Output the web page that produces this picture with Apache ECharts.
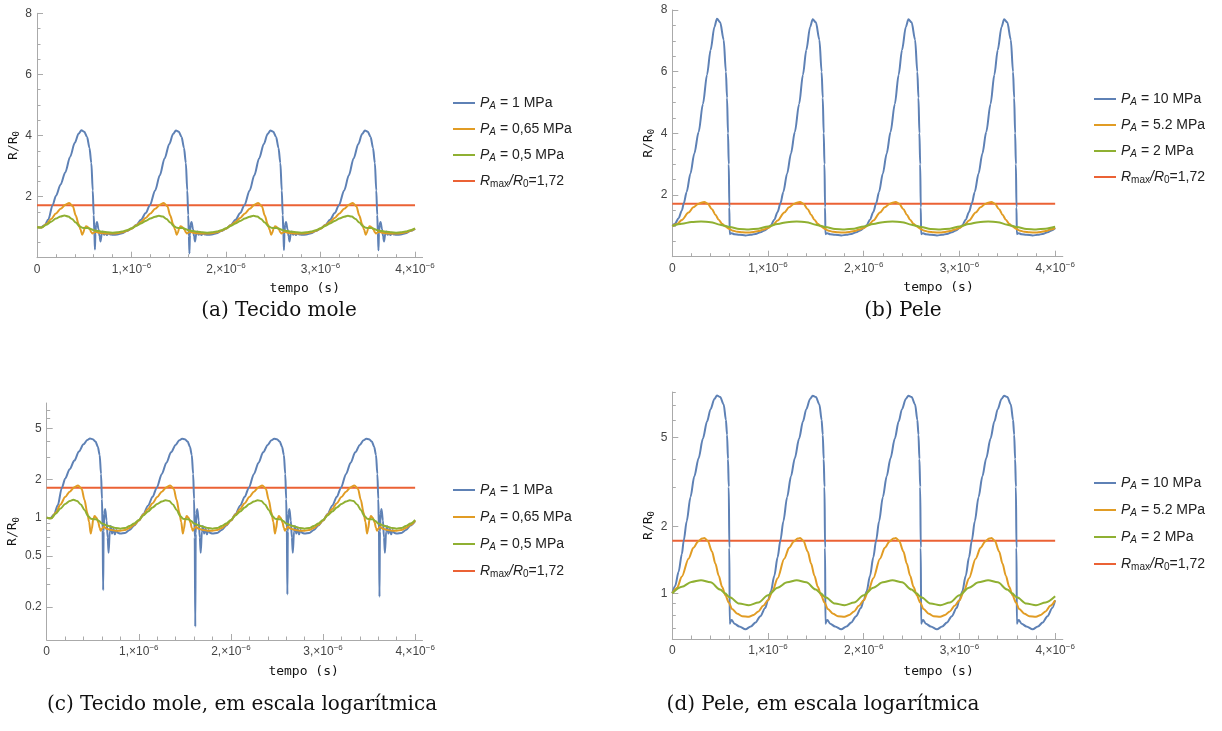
<!DOCTYPE html>
<html>
<head>
<meta charset="utf-8">
<script src="https://cdn.jsdelivr.net/npm/echarts@6/dist/echarts.min.js"></script>
<style>
html, body { margin: 0; padding: 0; background: #fff; }
#chart { width: 1222px; height: 731px; }
</style>
</head>
<body>
<div id="chart"></div>
<script>
// tempo em microssegundos, R/R0
// Tecido mole
const pa1MPa = [
  [0,1.0],[0.04,0.99],[0.08,1.06],[0.12,1.25],[0.165,1.72],[0.2,2.02],[0.25,2.4],[0.3,2.8],[0.35,3.3],[0.4,3.76],[0.44,4.06],[0.47,4.17],[0.5,4.12],[0.53,3.95],[0.555,3.6],[0.575,3.1],[0.59,2.2],[0.6,1.4],[0.607,0.8],[0.613,0.27],[0.618,0.78],[0.625,1.08],[0.635,1.17],[0.65,0.95],[0.662,0.7],[0.672,0.53],[0.685,0.78],[0.695,0.86],[0.71,0.75],[0.725,0.82],[0.74,0.74],[0.755,0.8],[0.775,0.76],[0.8,0.75],[0.85,0.76],[0.9,0.8],[0.95,0.87],
  [1.0,0.95],[1.05,1.07],[1.1,1.24],[1.15,1.46],[1.195,1.72],[1.25,2.2],[1.3,2.7],[1.35,3.25],[1.4,3.72],[1.44,4.05],[1.47,4.16],[1.5,4.12],[1.53,3.95],[1.555,3.6],[1.575,3.1],[1.59,2.2],[1.6,1.4],[1.607,0.7],[1.613,0.14],[1.618,0.75],[1.625,1.08],[1.635,1.17],[1.65,0.95],[1.662,0.7],[1.672,0.53],[1.685,0.78],[1.695,0.86],[1.71,0.75],[1.725,0.82],[1.74,0.74],[1.755,0.8],[1.775,0.76],[1.8,0.75],[1.85,0.76],[1.9,0.8],[1.95,0.87],
  [2.0,0.95],[2.05,1.07],[2.1,1.24],[2.15,1.46],[2.195,1.72],[2.25,2.2],[2.3,2.7],[2.35,3.25],[2.4,3.72],[2.44,4.05],[2.47,4.16],[2.5,4.12],[2.53,3.95],[2.555,3.6],[2.575,3.1],[2.59,2.2],[2.6,1.4],[2.607,0.8],[2.613,0.25],[2.618,0.78],[2.625,1.08],[2.635,1.17],[2.65,0.95],[2.662,0.7],[2.672,0.53],[2.685,0.78],[2.695,0.86],[2.71,0.75],[2.725,0.82],[2.74,0.74],[2.755,0.8],[2.775,0.76],[2.8,0.75],[2.85,0.76],[2.9,0.8],[2.95,0.87],
  [3.0,0.95],[3.05,1.07],[3.1,1.24],[3.15,1.46],[3.195,1.72],[3.25,2.2],[3.3,2.7],[3.35,3.25],[3.4,3.72],[3.44,4.05],[3.47,4.16],[3.5,4.12],[3.53,3.95],[3.555,3.6],[3.575,3.1],[3.59,2.2],[3.6,1.4],[3.607,0.8],[3.613,0.24],[3.618,0.78],[3.625,1.08],[3.635,1.17],[3.65,0.95],[3.662,0.7],[3.672,0.53],[3.685,0.78],[3.695,0.86],[3.71,0.75],[3.725,0.82],[3.74,0.74],[3.755,0.8],[3.775,0.76],[3.8,0.75],[3.85,0.76],[3.9,0.8],[3.95,0.87],
  [4.0,0.94]
];
const pa065MPa = [
  [0,1.0],[0.05,0.99],[0.1,1.1],[0.15,1.27],[0.2,1.45],[0.25,1.6],[0.3,1.73],[0.34,1.79],[0.38,1.68],[0.41,1.38],[0.44,1.1],[0.46,0.93],[0.478,0.75],[0.49,0.82],[0.505,0.97],[0.52,1.03],[0.54,1.0],[0.56,0.92],[0.575,0.83],[0.587,0.79],[0.6,0.82],[0.62,0.85],[0.65,0.82],[0.7,0.8],[0.75,0.79],[0.8,0.79],[0.85,0.8],[0.9,0.83],[0.95,0.88],
  [1.0,0.95],[1.05,1.06],[1.1,1.17],[1.15,1.3],[1.2,1.45],[1.25,1.6],[1.3,1.73],[1.34,1.79],[1.38,1.68],[1.41,1.38],[1.44,1.1],[1.46,0.93],[1.478,0.75],[1.49,0.82],[1.505,0.97],[1.52,1.03],[1.54,1.0],[1.56,0.92],[1.575,0.83],[1.587,0.79],[1.6,0.82],[1.62,0.85],[1.65,0.82],[1.7,0.8],[1.75,0.79],[1.8,0.79],[1.85,0.8],[1.9,0.83],[1.95,0.88],
  [2.0,0.95],[2.05,1.06],[2.1,1.17],[2.15,1.3],[2.2,1.45],[2.25,1.6],[2.3,1.73],[2.34,1.79],[2.38,1.68],[2.41,1.38],[2.44,1.1],[2.46,0.93],[2.478,0.75],[2.49,0.82],[2.505,0.97],[2.52,1.03],[2.54,1.0],[2.56,0.92],[2.575,0.83],[2.587,0.79],[2.6,0.82],[2.62,0.85],[2.65,0.82],[2.7,0.8],[2.75,0.79],[2.8,0.79],[2.85,0.8],[2.9,0.83],[2.95,0.88],
  [3.0,0.95],[3.05,1.06],[3.1,1.17],[3.15,1.3],[3.2,1.45],[3.25,1.6],[3.3,1.73],[3.34,1.79],[3.38,1.68],[3.41,1.38],[3.44,1.1],[3.46,0.93],[3.478,0.75],[3.49,0.82],[3.505,0.97],[3.52,1.03],[3.54,1.0],[3.56,0.92],[3.575,0.83],[3.587,0.79],[3.6,0.82],[3.62,0.85],[3.65,0.82],[3.7,0.8],[3.75,0.79],[3.8,0.79],[3.85,0.8],[3.9,0.83],[3.95,0.88],
  [4.0,0.95]
];
const pa05MPa = [
  [0,1.0],[0.05,0.99],[0.1,1.08],[0.15,1.18],[0.2,1.28],[0.25,1.35],[0.29,1.38],[0.33,1.35],[0.37,1.27],[0.41,1.15],[0.45,1.03],[0.48,0.98],[0.51,0.97],[0.54,0.97],[0.57,0.94],[0.6,0.9],[0.65,0.87],[0.7,0.85],[0.75,0.83],[0.8,0.82],[0.85,0.83],[0.9,0.86],[0.95,0.9],
  [1.0,0.96],[1.05,1.04],[1.1,1.12],[1.15,1.2],[1.2,1.28],[1.25,1.34],[1.29,1.37],[1.33,1.35],[1.37,1.27],[1.41,1.15],[1.45,1.03],[1.48,0.98],[1.51,0.97],[1.54,0.97],[1.57,0.94],[1.6,0.9],[1.65,0.87],[1.7,0.85],[1.75,0.83],[1.8,0.82],[1.85,0.83],[1.9,0.86],[1.95,0.9],
  [2.0,0.96],[2.05,1.04],[2.1,1.12],[2.15,1.2],[2.2,1.28],[2.25,1.34],[2.29,1.37],[2.33,1.35],[2.37,1.27],[2.41,1.15],[2.45,1.03],[2.48,0.98],[2.51,0.97],[2.54,0.97],[2.57,0.94],[2.6,0.9],[2.65,0.87],[2.7,0.85],[2.75,0.83],[2.8,0.82],[2.85,0.83],[2.9,0.86],[2.95,0.9],
  [3.0,0.96],[3.05,1.04],[3.1,1.12],[3.15,1.2],[3.2,1.28],[3.25,1.34],[3.29,1.37],[3.33,1.35],[3.37,1.27],[3.41,1.15],[3.45,1.03],[3.48,0.98],[3.51,0.97],[3.54,0.97],[3.57,0.94],[3.6,0.9],[3.65,0.87],[3.7,0.85],[3.75,0.83],[3.8,0.82],[3.85,0.83],[3.9,0.86],[3.95,0.9],
  [4.0,0.96]
];
// Pele
const pa10MPa = [
  [0,1.0],[0.03,1.08],[0.066,1.25],[0.1,1.5],[0.12,1.73],[0.15,2.1],[0.19,2.7],[0.23,3.35],[0.275,4.04],[0.32,4.95],[0.363,5.9],[0.4,6.7],[0.44,7.45],[0.467,7.72],[0.5,7.6],[0.537,7.03],[0.56,6.0],[0.572,5.15],[0.582,4.0],[0.59,3.0],[0.596,1.6],[0.6,0.73],[0.61,0.75],[0.62,0.76],[0.65,0.73],[0.7,0.71],[0.765,0.69],[0.82,0.71],[0.87,0.74],[0.92,0.79],[0.97,0.86],
  [1.0,0.93],[1.03,1.02],[1.066,1.2],[1.1,1.45],[1.13,1.73],[1.16,2.1],[1.2,2.7],[1.24,3.35],[1.28,4.04],[1.325,4.95],[1.365,5.9],[1.4,6.7],[1.44,7.45],[1.467,7.7],[1.5,7.6],[1.537,7.03],[1.56,6.0],[1.572,5.15],[1.582,4.0],[1.59,3.0],[1.596,1.6],[1.6,0.73],[1.61,0.75],[1.62,0.76],[1.65,0.73],[1.7,0.71],[1.765,0.69],[1.82,0.71],[1.87,0.74],[1.92,0.79],[1.97,0.86],
  [2.0,0.93],[2.03,1.02],[2.066,1.2],[2.1,1.45],[2.13,1.73],[2.16,2.1],[2.2,2.7],[2.24,3.35],[2.28,4.04],[2.325,4.95],[2.365,5.9],[2.4,6.7],[2.44,7.45],[2.467,7.7],[2.5,7.6],[2.537,7.03],[2.56,6.0],[2.572,5.15],[2.582,4.0],[2.59,3.0],[2.596,1.6],[2.6,0.73],[2.61,0.75],[2.62,0.76],[2.65,0.73],[2.7,0.71],[2.765,0.69],[2.82,0.71],[2.87,0.74],[2.92,0.79],[2.97,0.86],
  [3.0,0.93],[3.03,1.02],[3.066,1.2],[3.1,1.45],[3.13,1.73],[3.16,2.1],[3.2,2.7],[3.24,3.35],[3.28,4.04],[3.325,4.95],[3.365,5.9],[3.4,6.7],[3.44,7.45],[3.467,7.7],[3.5,7.6],[3.537,7.03],[3.56,6.0],[3.572,5.15],[3.582,4.0],[3.59,3.0],[3.596,1.6],[3.6,0.73],[3.61,0.75],[3.62,0.76],[3.65,0.73],[3.7,0.71],[3.765,0.69],[3.82,0.71],[3.87,0.74],[3.92,0.79],[3.97,0.86],
  [4.0,0.93]
];
const pa52MPa = [
  [0,1.0],[0.05,1.06],[0.1,1.19],[0.17,1.43],[0.22,1.6],[0.27,1.71],[0.31,1.76],[0.335,1.77],[0.37,1.72],[0.415,1.54],[0.45,1.36],[0.485,1.2],[0.52,1.07],[0.555,0.98],[0.59,0.91],[0.625,0.85],[0.68,0.81],[0.73,0.79],[0.8,0.785],[0.85,0.8],[0.9,0.83],[0.95,0.88],
  [1.0,0.93],[1.05,1.03],[1.1,1.17],[1.17,1.43],[1.22,1.6],[1.27,1.71],[1.31,1.76],[1.335,1.77],[1.37,1.72],[1.415,1.54],[1.45,1.36],[1.485,1.2],[1.52,1.07],[1.555,0.98],[1.59,0.91],[1.625,0.85],[1.68,0.81],[1.73,0.79],[1.8,0.785],[1.85,0.8],[1.9,0.83],[1.95,0.88],
  [2.0,0.93],[2.05,1.03],[2.1,1.17],[2.17,1.43],[2.22,1.6],[2.27,1.71],[2.31,1.76],[2.335,1.77],[2.37,1.72],[2.415,1.54],[2.45,1.36],[2.485,1.2],[2.52,1.07],[2.555,0.98],[2.59,0.91],[2.625,0.85],[2.68,0.81],[2.73,0.79],[2.8,0.785],[2.85,0.8],[2.9,0.83],[2.95,0.88],
  [3.0,0.93],[3.05,1.03],[3.1,1.17],[3.17,1.43],[3.22,1.6],[3.27,1.71],[3.31,1.76],[3.335,1.77],[3.37,1.72],[3.415,1.54],[3.45,1.36],[3.485,1.2],[3.52,1.07],[3.555,0.98],[3.59,0.91],[3.625,0.85],[3.68,0.81],[3.73,0.79],[3.8,0.785],[3.85,0.8],[3.9,0.83],[3.95,0.88],
  [4.0,0.93]
];
const pa2MPa = [
  [0,1.0],[0.1,1.07],[0.2,1.125],[0.3,1.145],[0.4,1.12],[0.5,1.04],[0.55,1.0],[0.6,0.96],[0.7,0.9],[0.8,0.885],[0.9,0.91],
  [1.0,0.98],[1.1,1.06],[1.2,1.12],[1.3,1.145],[1.4,1.12],[1.5,1.04],[1.55,1.0],[1.6,0.96],[1.7,0.9],[1.8,0.885],[1.9,0.91],
  [2.0,0.98],[2.1,1.06],[2.2,1.12],[2.3,1.145],[2.4,1.12],[2.5,1.04],[2.55,1.0],[2.6,0.96],[2.7,0.9],[2.8,0.885],[2.9,0.91],
  [3.0,0.98],[3.1,1.06],[3.2,1.12],[3.3,1.145],[3.4,1.12],[3.5,1.04],[3.55,1.0],[3.6,0.96],[3.7,0.9],[3.8,0.885],[3.9,0.91],
  [4.0,0.97]
];
const rmaxLine = [[0, 1.72], [4, 1.72]];

const xMajorTicks = [0, 1, 2, 3, 4];
const xMinorTicks = [0.2, 0.4, 0.6, 0.8, 1.2, 1.4, 1.6, 1.8, 2.2, 2.4, 2.6, 2.8, 3.2, 3.4, 3.6, 3.8];
const logMajorC = [0.2, 0.5, 1, 2, 5];
const logMinorC = [0.3, 0.4, 0.6, 0.7, 0.8, 0.9, 3, 4, 6, 7];
const logMajorD = [1, 2, 5];
const logMinorD = [0.7, 0.8, 0.9, 3, 4, 6, 7, 8];

const legendText = {
  a1: '{i|P}{s|A}{t| = 1 MPa}',
  a2: '{i|P}{s|A}{t| = 0,65 MPa}',
  a3: '{i|P}{s|A}{t| = 0,5 MPa}',
  b1: '{i|P}{s|A}{t| = 10 MPa}',
  b2: '{i|P}{s|A}{t| = 5.2 MPa}',
  b3: '{i|P}{s|A}{t| = 2 MPa}',
  rm: '{i|R}{u|max}{i|/R}{u|0}{t|=1,72}'
};
const captions = [
  ['(a) Tecido mole', 279, 311],
  ['(b) Pele', 903, 311],
  ['(c) Tecido mole, em escala logarítmica', 242, 705],
  ['(d) Pele, em escala logarítmica', 823, 705]
];

const BLUE = '#5e81b5', ORANGE = '#e19c24', GREEN = '#8fb032', RED = '#eb6235';
const AX = '#aaaaaa', LBL = '#444';
const SANS = 'Liberation Sans, Arial, sans-serif';
const MONO = 'DejaVu Sans Mono, monospace';

const axLine = { show: true, onZero: false, lineStyle: { color: AX, width: 1 } };

function xAxes(grid, nameShift, gap) {
  return [{
    gridIndex: grid, type: 'value', position: 'bottom', min: 0, max: 4.08,
    axisLine: axLine,
    axisTick: { inside: true, length: 6, lineStyle: { color: AX }, customValues: xMajorTicks },
    axisLabel: {
      customValues: xMajorTicks, margin: 4, color: LBL,
      formatter: v => v === 0 ? '{n|0}' : '{n|' + v + ',×10}{e|−6}',
      rich: {
        n: { fontSize: 12, fontFamily: SANS, color: LBL, lineHeight: 16 },
        e: { fontSize: 8, fontFamily: SANS, color: LBL, lineHeight: 9, verticalAlign: 'top' }
      }
    },
    splitLine: { show: false },
    name: 'tempo (s)', nameLocation: 'middle', nameGap: gap,
    nameTextStyle: { fontFamily: MONO, fontSize: 13, color: '#111', padding: [0, 0, 0, nameShift] }
  }, {
    gridIndex: grid, type: 'value', position: 'bottom', min: 0, max: 4.08,
    axisLine: { show: false },
    axisTick: { inside: true, length: 3.5, lineStyle: { color: AX }, customValues: xMinorTicks },
    axisLabel: { show: false },
    splitLine: { show: false }
  }];
}

const yName = {
  name: '{a|R/R}{b|0}', nameLocation: 'middle',
  nameTextStyle: {
    padding: [0, 20, 0, 0],
    rich: {
      a: { fontFamily: MONO, fontSize: 13, color: '#111', lineHeight: 16 },
      b: { fontFamily: MONO, fontSize: 9, color: '#111', lineHeight: 8, verticalAlign: 'bottom' }
    }
  }
};

function yLinear(grid, gap) {
  return Object.assign({
    gridIndex: grid, type: 'value', position: 'left', min: 0, max: 8, interval: 2,
    axisLine: axLine,
    axisTick: { inside: true, length: 6, lineStyle: { color: AX } },
    minorTick: { show: true, splitNumber: 4, length: 3.5, lineStyle: { color: AX } },
    axisLabel: { showMinLabel: false, margin: 5, color: LBL, fontSize: 12, fontFamily: SANS },
    splitLine: { show: false }, minorSplitLine: { show: false },
    nameGap: gap
  }, yName);
}

function yLog(grid, min, max, major, minor, gap) {
  return [Object.assign({
    gridIndex: grid, type: 'log', logBase: 10, position: 'left', min: min, max: max,
    axisLine: axLine,
    axisTick: { inside: true, length: 6, lineStyle: { color: AX }, customValues: major },
    axisLabel: { customValues: major, margin: 5, color: LBL, fontSize: 12, fontFamily: SANS, formatter: v => String(v) },
    splitLine: { show: false }, minorSplitLine: { show: false },
    nameGap: gap
  }, yName), {
    gridIndex: grid, type: 'log', logBase: 10, position: 'left', min: min, max: max,
    axisLine: { show: false },
    axisTick: { inside: true, length: 3.5, lineStyle: { color: AX }, customValues: minor },
    axisLabel: { show: false },
    splitLine: { show: false }
  }];
}

function line(name, data, color, xi, yi) {
  return {
    type: 'line', name: name, data: data, xAxisIndex: xi, yAxisIndex: yi,
    symbol: 'none', smooth: 0.3, smoothMonotone: 'x',
    lineStyle: { color: color, width: 2 }, itemStyle: { color: color },
    silent: true, z: name === 'rm' ? 1 : 2
  };
}

function panelSeries(xi, yi, s1, s2, s3, names) {
  return [
    line(names[0], s1, BLUE, xi, yi),
    line(names[1], s2, ORANGE, xi, yi),
    line(names[2], s3, GREEN, xi, yi),
    line('rm', rmaxLine, RED, xi, yi)
  ];
}

function legend(left, top, gap, names) {
  return {
    orient: 'vertical', left: left, top: top, data: names,
    icon: 'rect', itemWidth: 22, itemHeight: 2, itemGap: gap,
    formatter: n => legendText[n],
    textStyle: {
      rich: {
        i: { fontFamily: SANS, fontSize: 14, fontStyle: 'italic', color: '#222', lineHeight: 17 },
        s: { fontFamily: SANS, fontSize: 10, fontStyle: 'italic', color: '#222', lineHeight: 8, verticalAlign: 'bottom' },
        u: { fontFamily: SANS, fontSize: 10, color: '#222', lineHeight: 8, verticalAlign: 'bottom' },
        t: { fontFamily: SANS, fontSize: 14, color: '#222', lineHeight: 17 }
      }
    }
  };
}

const chart = echarts.init(document.getElementById('chart'));
chart.setOption({
  animation: false,
  backgroundColor: '#fff',
  grid: [
    { left: 37, top: 13.3, width: 385.6, height: 244.4, outerBoundsMode: 'none' },
    { left: 672.3, top: 10, width: 390.5, height: 246.7, outerBoundsMode: 'none' },
    { left: 46.7, top: 403, width: 375.8, height: 237, outerBoundsMode: 'none' },
    { left: 672.3, top: 392, width: 390.5, height: 247, outerBoundsMode: 'none' }
  ],
  xAxis: [].concat(xAxes(0, 150, 24), xAxes(1, 142, 24), xAxes(2, 138, 25), xAxes(3, 142, 26)),
  yAxis: [].concat(
    [yLinear(0, 14)],
    [yLinear(1, 16)],
    yLog(2, 0.11, 7.92, logMajorC, logMinorC, 22),
    yLog(3, 0.624, 8.0, logMajorD, logMinorD, 16)
  ),
  legend: [
    legend(448, 91, 10.5, ['a1', 'a2', 'a3', 'rm']),
    legend(1089, 87, 10.5, ['b1', 'b2', 'b3', 'rm']),
    legend(448, 478, 11.5, ['a1', 'a2', 'a3', 'rm']),
    legend(1089, 471, 11.5, ['b1', 'b2', 'b3', 'rm'])
  ],
  series: [].concat(
    panelSeries(0, 0, pa1MPa, pa065MPa, pa05MPa, ['a1', 'a2', 'a3']),
    panelSeries(2, 1, pa10MPa, pa52MPa, pa2MPa, ['b1', 'b2', 'b3']),
    panelSeries(4, 2, pa1MPa, pa065MPa, pa05MPa, ['a1', 'a2', 'a3']),
    panelSeries(6, 4, pa10MPa, pa52MPa, pa2MPa, ['b1', 'b2', 'b3'])
  ),
  graphic: captions.map(c => ({
    type: 'text', x: c[1], y: c[2],
    style: { text: c[0], fontFamily: 'DejaVu Serif, serif', fontSize: 20, fill: '#111', align: 'center', verticalAlign: 'middle' }
  }))
});
</script>
</body>
</html>
